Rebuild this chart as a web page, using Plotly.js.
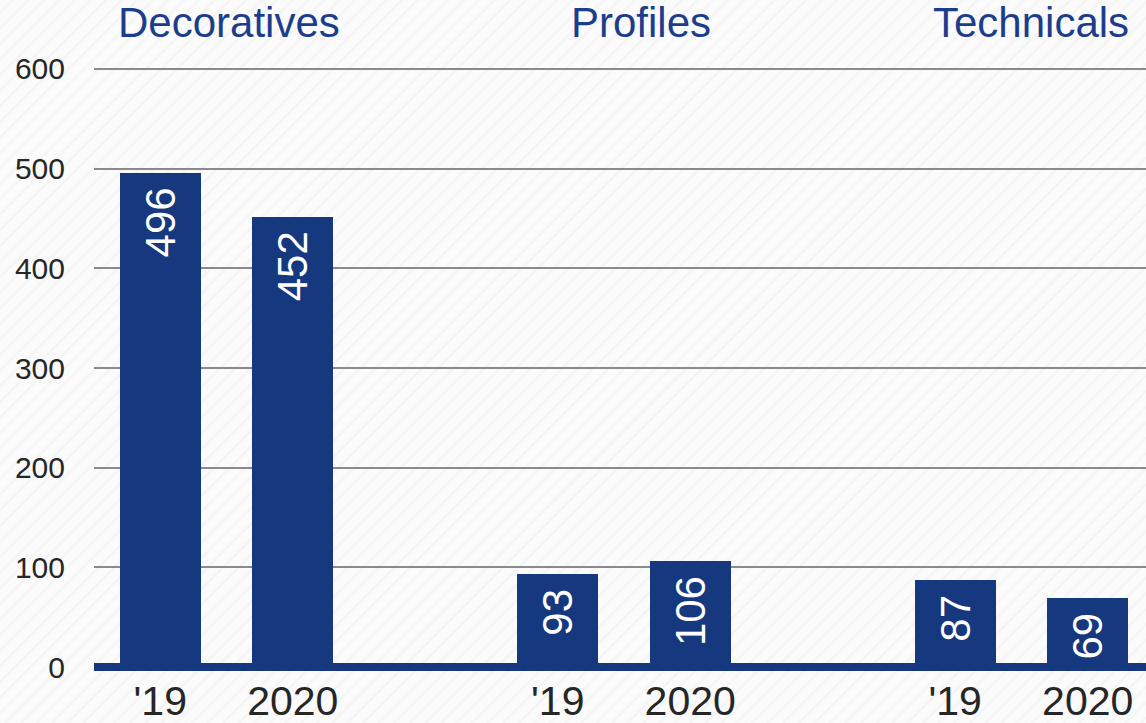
<!DOCTYPE html>
<html>
<head>
<meta charset="utf-8">
<script src="https://cdn.plot.ly/plotly-3.0.1.min.js"></script>
<style>
html,body{margin:0;padding:0;}
body{width:1146px;height:723px;overflow:hidden;
background:repeating-linear-gradient(135deg,#fbfbfb 0px,#fbfbfb 7px,#f3f3f3 9px,#fbfbfb 11px);}
#chart{width:1146px;height:723px;}
</style>
</head>
<body>
<div id="chart"></div>
<script>
// Data
const groups = ["Decoratives", "Profiles", "Technicals"];
const yearLabels = ["'19", "2020", "'19", "2020", "'19", "2020"];
const slotPositions = [0, 1, 3, 4, 6, 7];
const values = [496, 452, 93, 106, 87, 69];
const groupLabelPositions = [0.52, 3.63, 6.57];
const yTicks = [0, 100, 200, 300, 400, 500, 600];

const blue = "#15387f";

const trace = {
  type: "bar",
  x: slotPositions,
  y: values,
  width: 0.61,
  marker: {color: blue, line: {width: 0}},
  text: values.map(v => String(v) + "\u00a0"),
  textposition: "inside",
  insidetextanchor: "end",
  textangle: -90,
  textfont: {family: "Arial, Liberation Sans, sans-serif", size: 42, color: "#ffffff"},
  constraintext: "none",
  hoverinfo: "skip"
};

const annotations = groups.map((g, i) => ({
  x: groupLabelPositions[i], xref: "x",
  y: 1, yref: "paper", yshift: 45,
  text: g, showarrow: false,
  xanchor: "center", yanchor: "middle",
  font: {family: "Arial, Liberation Sans, sans-serif", size: 42, color: "#1b3d8c"}
}));

const layout = {
  width: 1146, height: 723,
  margin: {l: 94, r: 0, t: 67, b: 56, pad: 0},
  paper_bgcolor: "rgba(0,0,0,0)",
  plot_bgcolor: "rgba(0,0,0,0)",
  showlegend: false,
  bargap: 0,
  xaxis: {
    range: [-0.5, 7.44],
    tickmode: "array",
    tickvals: slotPositions,
    ticktext: yearLabels,
    showgrid: false, zeroline: false, showline: false,
    ticks: "",
    ticklabelstandoff: 6,
    tickfont: {family: "Arial, Liberation Sans, sans-serif", size: 41, color: "#262626"},
    fixedrange: true
  },
  yaxis: {
    range: [0, 602],
    tickmode: "array",
    tickvals: yTicks,
    showgrid: true, gridcolor: "#8a8a8a", gridwidth: 2,
    zeroline: true, zerolinecolor: blue, zerolinewidth: 8,
    showline: false,
    ticks: "",
    ticklabelstandoff: 28,
    tickfont: {family: "Arial, Liberation Sans, sans-serif", size: 30, color: "#262626"},
    fixedrange: true
  },
  annotations: annotations
};

Plotly.newPlot("chart", [trace], layout, {displayModeBar: false, staticPlot: true});
</script>
</body>
</html>
